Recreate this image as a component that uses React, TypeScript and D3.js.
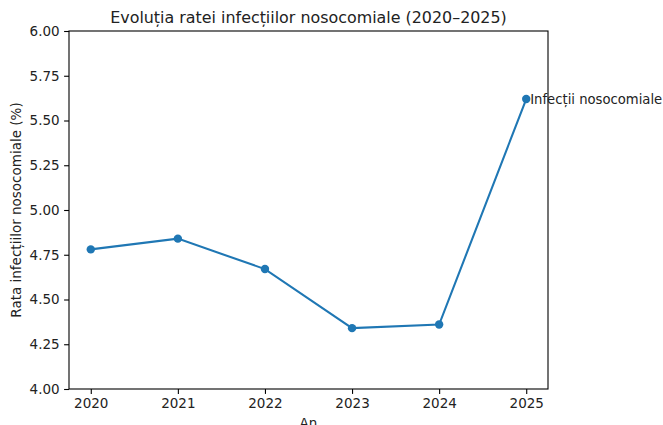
import React, { useEffect, useRef } from 'react';
import * as d3 from 'd3';

const years = [2020, 2021, 2022, 2023, 2024, 2025];
const rates = [4.78, 4.84, 4.67, 4.34, 4.36, 5.62];
const yTicks = [4.0, 4.25, 4.5, 4.75, 5.0, 5.25, 5.5, 5.75, 6.0];
const seriesName = 'Infecții nosocomiale';
const title = 'Evoluția ratei infecțiilor nosocomiale (2020–2025)';
const xTitle = 'An';
const yTitle = 'Rata infecțiilor nosocomiale (%)';

const W = 663, H = 425;
const FONT = 'DejaVu Sans, sans-serif';
const INK = '#222';

const App = () => {
  const svgRef = useRef<SVGSVGElement>(null);

  useEffect(() => {
    const svg = d3.select(svgRef.current);
    svg.selectAll('*').remove();

    const margin = { top: 31, right: 115, bottom: 36, left: 69 };
    const width = W - margin.left - margin.right;
    const height = H - margin.top - margin.bottom;

    const x = d3.scaleLinear().domain([2019.75, 2025.25]).range([0, width]);
    const y = d3.scaleLinear().domain([4, 6]).range([height, 0]);

    const g = svg.append('g').attr('transform', `translate(${margin.left},${margin.top})`);

    // axes
    const xAxis = g.append('g').attr('transform', `translate(0,${height})`)
      .call(d3.axisBottom(x).tickValues(years).tickFormat(d3.format('d')).tickSize(4.9).tickPadding(4.5));
    const yAxis = g.append('g')
      .call(d3.axisLeft(y).tickValues(yTicks).tickFormat(d3.format('.2f')).tickSize(4.9).tickPadding(4.5));
    [xAxis, yAxis].forEach(a => {
      a.select('.domain').remove();
      a.selectAll('line').attr('stroke', '#000').attr('stroke-width', 1.1);
      a.selectAll('text').attr('fill', INK).style('font-family', FONT).style('font-size', '13.5px');
    });

    // frame
    g.append('rect').attr('width', width).attr('height', height)
      .attr('fill', 'none').attr('stroke', '#000').attr('stroke-width', 1.1);

    const pts = years.map((yr, i) => [yr, rates[i]] as [number, number]);
    const line = d3.line<[number, number]>().x(d => x(d[0])).y(d => y(d[1]));
    g.append('path').datum(pts).attr('d', line)
      .attr('fill', 'none').attr('stroke', '#1f77b4').attr('stroke-width', 2.08);
    g.selectAll('.dot').data(pts).enter().append('circle')
      .attr('cx', d => x(d[0])).attr('cy', d => y(d[1])).attr('r', 4.2)
      .attr('fill', '#1f77b4');

    const last = pts[pts.length - 1];
    g.append('text').attr('x', x(last[0]) + 4).attr('y', y(last[1]))
      .attr('dy', '0.35em').attr('fill', INK)
      .style('font-family', FONT).style('font-size', '13.2px').text(seriesName);

    svg.append('text').attr('x', margin.left + width / 2).attr('y', 23)
      .attr('text-anchor', 'middle').attr('fill', INK)
      .style('font-family', FONT).style('font-size', '15.9px').text(title);

    svg.append('text').attr('x', margin.left + width / 2).attr('y', 428)
      .attr('text-anchor', 'middle').attr('fill', INK)
      .style('font-family', FONT).style('font-size', '13.5px').text(xTitle);

    svg.append('text').attr('transform', `translate(21,${margin.top + height / 2}) rotate(-90)`)
      .attr('text-anchor', 'middle').attr('fill', INK)
      .style('font-family', FONT).style('font-size', '13.5px').text(yTitle);
  }, []);

  return (
    <svg ref={svgRef} width={W} height={H}
      style={{ position: 'absolute', left: 0, top: 0, background: '#fff' }} />
  );
};

export default App;
